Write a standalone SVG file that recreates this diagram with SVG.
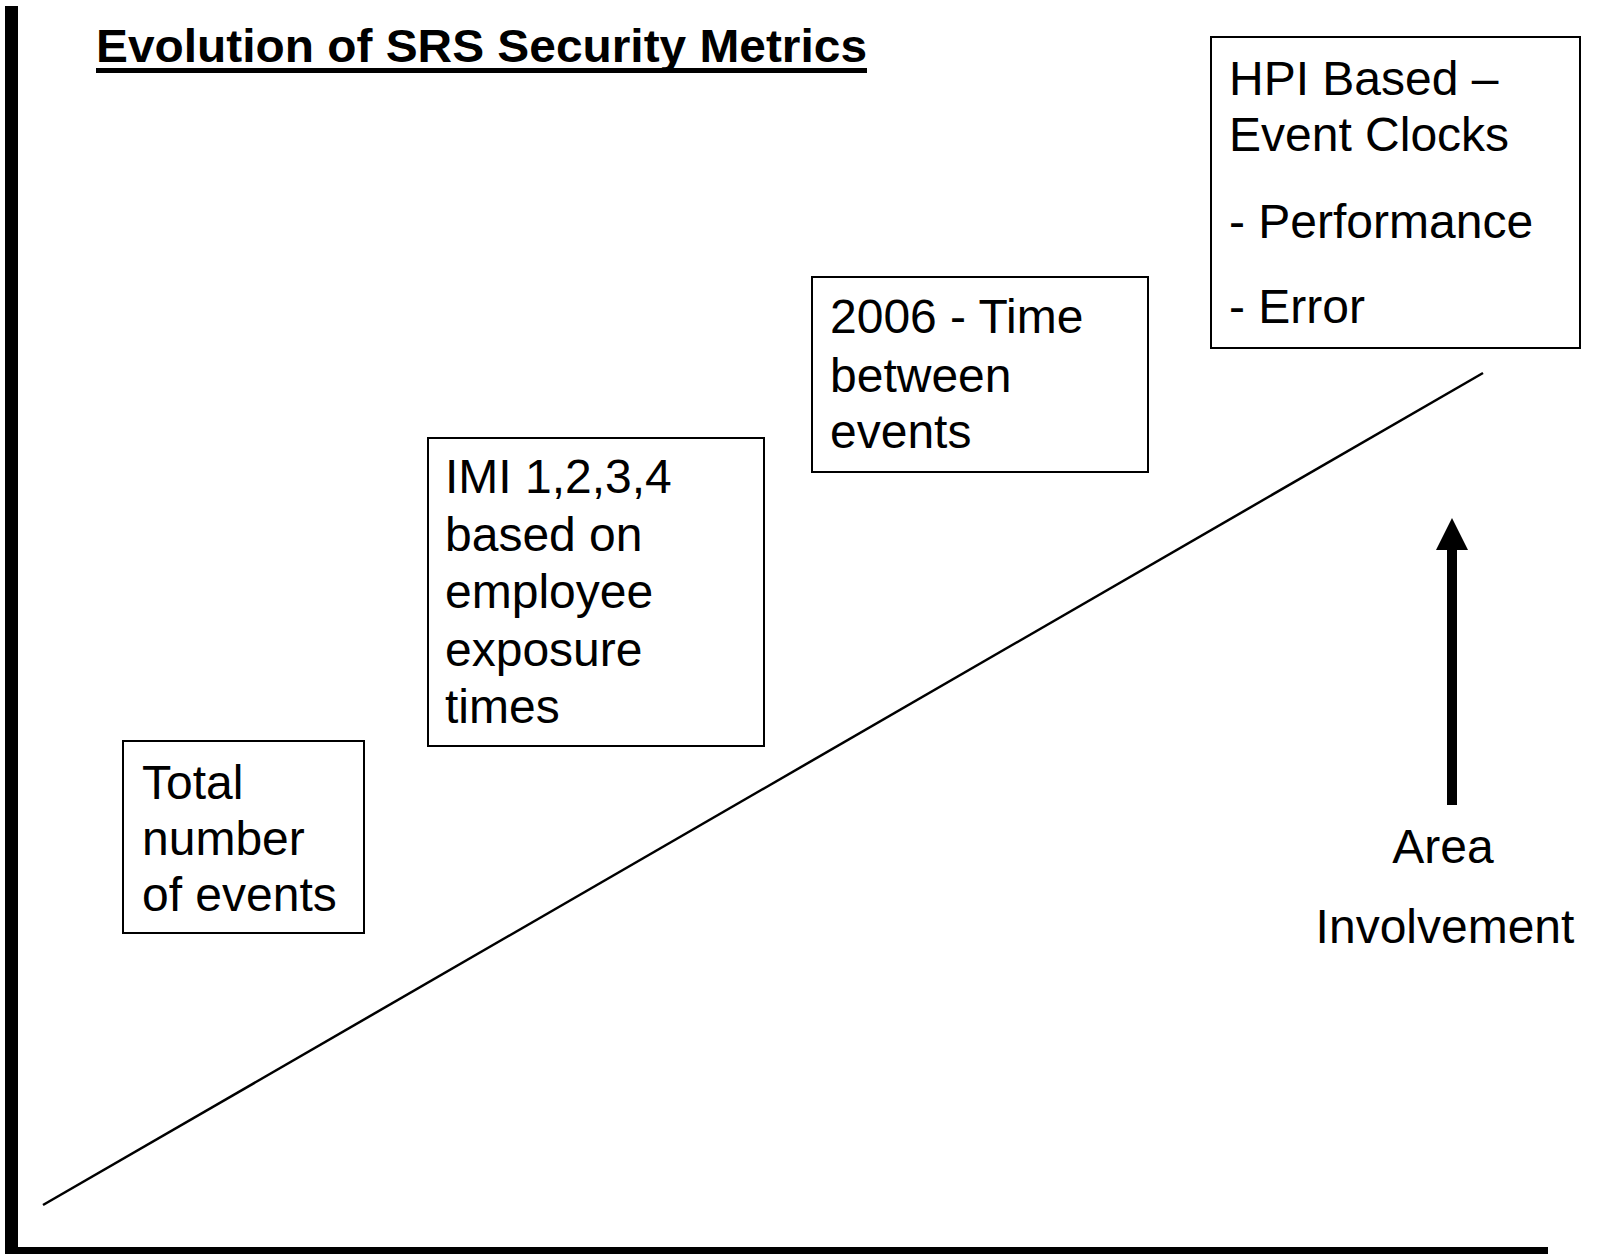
<svg xmlns="http://www.w3.org/2000/svg" width="1597" height="1254" viewBox="0 0 1597 1254">
<style>
.box{fill:#fff;stroke:#000;stroke-width:2}
.t{font-family:"Liberation Sans",Arial,sans-serif;font-size:48px;fill:#000}
.title{font-family:"Liberation Sans",Arial,sans-serif;font-size:46px;font-weight:bold;fill:#000}
</style>
<rect width="1597" height="1254" fill="#fff"/>
<g id="axes">
<rect x="5" y="6" width="13" height="1248" fill="#000"/>
<rect x="5" y="1247" width="1543" height="7" fill="#000"/>
</g>
<g id="title">
<text class="title" x="96" y="62" textLength="771" lengthAdjust="spacingAndGlyphs">Evolution of SRS Security Metrics</text>
<rect x="96" y="68" width="771" height="5" fill="#000"/>
</g>
<g id="connectors">
<line x1="43" y1="1205" x2="1483" y2="373" stroke="#000" stroke-width="2.5"/>
<rect x="1447" y="548" width="10" height="257" fill="#000"/>
<polygon points="1452,518 1468,550 1436,550" fill="#000"/>
</g>
<g id="node-total">
<rect class="box" x="123" y="741" width="241" height="192"/>
<text class="t" x="142" y="799">Total</text>
<text class="t" x="142" y="855">number</text>
<text class="t" x="142" y="911">of events</text>
</g>
<g id="node-imi">
<rect class="box" x="428" y="438" width="336" height="308"/>
<text class="t" x="445" y="493">IMI 1,2,3,4</text>
<text class="t" x="445" y="551">based on</text>
<text class="t" x="445" y="608">employee</text>
<text class="t" x="445" y="666">exposure</text>
<text class="t" x="445" y="723">times</text>
</g>
<g id="node-2006">
<rect class="box" x="812" y="277" width="336" height="195"/>
<text class="t" x="830" y="333">2006 - Time</text>
<text class="t" x="830" y="392">between</text>
<text class="t" x="830" y="448">events</text>
</g>
<g id="node-hpi">
<rect class="box" x="1211" y="37" width="369" height="311"/>
<text class="t" x="1229" y="95">HPI Based –</text>
<text class="t" x="1229" y="151">Event Clocks</text>
<text class="t" x="1229" y="238">- Performance</text>
<text class="t" x="1229" y="323">- Error</text>
</g>
<g id="label-area">
<text class="t" x="1443" y="863" text-anchor="middle">Area</text>
<text class="t" x="1445" y="943" text-anchor="middle">Involvement</text>
</g>
</svg>
